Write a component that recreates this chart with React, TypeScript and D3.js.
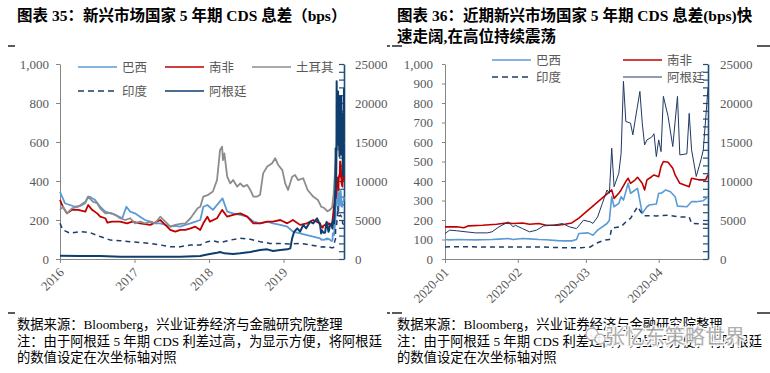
import React, { useEffect, useRef } from 'react'
import * as d3 from 'd3'

type Pt = [string, number]

// ---- 2016-07 ~ 2019-12 (left axis bps; Argentina on secondary axis)
const brazilHist: Pt[] = [
  ['2016-07-01', 345], ['2016-07-11', 320], ['2016-07-25', 286], ['2016-08-19', 277],
  ['2016-09-13', 268], ['2016-10-08', 272], ['2016-11-02', 286], ['2016-11-16', 320],
  ['2016-11-26', 318], ['2016-12-20', 303], ['2017-01-14', 268], ['2017-02-08', 243],
  ['2017-03-05', 234], ['2017-03-29', 226], ['2017-05-02', 209], ['2017-05-22', 268],
  ['2017-06-10', 243], ['2017-07-03', 234], ['2017-07-28', 217], ['2017-08-22', 200],
  ['2017-09-16', 192], ['2017-10-10', 183], ['2017-11-04', 183], ['2017-11-29', 175],
  ['2017-12-23', 166], ['2018-01-17', 170], ['2018-02-10', 166], ['2018-03-07', 175],
  ['2018-04-01', 183], ['2018-04-25', 192], ['2018-05-19', 200], ['2018-06-03', 268],
  ['2018-06-23', 277], ['2018-07-20', 252], ['2018-09-05', 311], ['2018-09-28', 243],
  ['2018-10-27', 234], ['2018-12-01', 226], ['2019-01-04', 217], ['2019-02-03', 192],
  ['2019-03-08', 183], ['2019-04-12', 192], ['2019-05-10', 183], ['2019-06-15', 175],
  ['2019-07-19', 166], ['2019-08-16', 140], ['2019-09-20', 132], ['2019-10-23', 123],
  ['2019-11-23', 115], ['2019-12-27', 106],
]

const safricaHist: Pt[] = [
  ['2016-07-01', 303], ['2016-07-15', 268], ['2016-08-04', 234], ['2016-08-29', 252],
  ['2016-09-28', 252], ['2016-11-02', 243], ['2016-11-16', 277], ['2016-12-05', 252],
  ['2016-12-30', 234], ['2017-01-14', 217], ['2017-02-08', 209], ['2017-02-18', 186],
  ['2017-03-12', 192], ['2017-04-22', 192], ['2017-05-25', 183], ['2017-06-21', 192],
  ['2017-07-28', 183], ['2017-09-16', 175], ['2017-11-04', 200], ['2017-11-29', 175],
  ['2017-12-23', 149], ['2018-01-17', 140], ['2018-02-10', 149], ['2018-03-07', 149],
  ['2018-04-01', 157], ['2018-04-25', 166], ['2018-05-19', 149], ['2018-06-03', 183],
  ['2018-06-23', 217], ['2018-07-05', 192], ['2018-08-09', 209], ['2018-09-03', 252],
  ['2018-09-28', 217], ['2018-10-27', 226], ['2018-12-01', 234], ['2019-01-04', 217],
  ['2019-02-03', 183], ['2019-03-08', 183], ['2019-04-12', 192], ['2019-05-10', 192],
  ['2019-06-15', 200], ['2019-07-19', 183], ['2019-08-16', 200], ['2019-09-20', 175],
  ['2019-10-23', 183], ['2019-11-23', 200], ['2019-12-27', 183],
]

const turkeyHist: Pt[] = [
  ['2016-07-01', 252], ['2016-07-15', 268], ['2016-08-04', 234], ['2016-08-29', 260],
  ['2016-09-28', 268], ['2016-11-02', 294], ['2016-11-16', 320], ['2016-12-09', 294],
  ['2016-12-30', 286], ['2017-01-14', 260], ['2017-02-08', 234], ['2017-03-05', 237],
  ['2017-03-29', 226], ['2017-04-22', 209], ['2017-05-17', 200], ['2017-06-10', 209],
  ['2017-07-03', 183], ['2017-07-28', 192], ['2017-08-22', 183], ['2017-09-16', 192],
  ['2017-10-10', 183], ['2017-11-04', 217], ['2017-11-29', 192], ['2017-12-23', 166],
  ['2018-01-17', 175], ['2018-02-10', 180], ['2018-03-07', 183], ['2018-04-01', 209],
  ['2018-05-06', 260], ['2018-05-19', 268], ['2018-06-03', 320], ['2018-06-27', 329],
  ['2018-07-20', 346], ['2018-08-09', 405], ['2018-08-24', 559], ['2018-09-03', 576],
  ['2018-09-07', 507], ['2018-09-14', 542], ['2018-09-28', 422], ['2018-10-13', 388],
  ['2018-10-27', 405], ['2018-11-16', 371], ['2018-12-01', 388], ['2018-12-16', 371],
  ['2019-01-04', 380], ['2019-01-19', 354], ['2019-02-03', 320], ['2019-02-22', 320],
  ['2019-03-08', 329], ['2019-03-23', 439], ['2019-04-12', 474], ['2019-05-06', 491],
  ['2019-05-21', 517], ['2019-06-05', 482], ['2019-06-25', 456], ['2019-07-09', 388],
  ['2019-07-23', 354], ['2019-08-12', 422], ['2019-08-26', 431], ['2019-09-10', 405],
  ['2019-10-05', 414], ['2019-10-27', 354], ['2019-11-23', 320], ['2019-12-16', 303],
  ['2019-12-27', 280],
]

const indiaHist: Pt[] = [
  ['2016-07-01', 183], ['2016-07-15', 149], ['2016-08-19', 132], ['2016-10-08', 140],
  ['2016-11-26', 135], ['2017-01-14', 115], ['2017-03-05', 97], ['2017-04-22', 94],
  ['2017-06-10', 89], ['2017-07-28', 84], ['2017-09-16', 80], ['2017-11-04', 72],
  ['2017-12-23', 63], ['2018-02-10', 63], ['2018-04-01', 72], ['2018-05-19', 72],
  ['2018-06-23', 89], ['2018-07-20', 94], ['2018-08-24', 84], ['2018-10-13', 97],
  ['2018-12-01', 106], ['2019-01-19', 101], ['2019-03-08', 89], ['2019-04-25', 80],
  ['2019-06-15', 80], ['2019-08-03', 77], ['2019-09-20', 80], ['2019-11-08', 72],
  ['2019-12-27', 63],
]

const argentinaHist: Pt[] = [
  ['2016-07-01', 423], ['2016-10-08', 385], ['2017-01-14', 385], ['2017-04-22', 300],
  ['2017-09-16', 300], ['2018-02-10', 300], ['2018-05-19', 385], ['2018-06-10', 513],
  ['2018-07-05', 641], ['2018-08-09', 812], ['2018-08-24', 897], ['2018-09-14', 726],
  ['2018-10-27', 641], ['2018-12-01', 726], ['2019-01-19', 897], ['2019-03-08', 1154],
  ['2019-04-12', 1239], ['2019-05-10', 1026], ['2019-06-15', 1154], ['2019-07-19', 1239],
  ['2019-08-03', 1368], ['2019-08-12', 2650], ['2019-08-22', 3500], ['2019-09-06', 3928],
  ['2019-09-20', 3500], ['2019-10-05', 4355], ['2019-10-20', 3928], ['2019-11-08', 4783],
  ['2019-11-23', 4570], ['2019-12-12', 5211], ['2019-12-27', 4355],
]

const brazil2020: Pt[] = [
  ['2020-01-01', 100], ['2020-01-03', 98], ['2020-01-07', 100], ['2020-01-10', 99],
  ['2020-01-14', 98], ['2020-01-17', 99], ['2020-01-21', 100], ['2020-01-24', 102],
  ['2020-01-28', 105], ['2020-01-30', 100], ['2020-02-03', 105], ['2020-02-06', 103],
  ['2020-02-10', 100], ['2020-02-13', 99], ['2020-02-18', 94], ['2020-02-21', 93],
  ['2020-02-24', 93], ['2020-02-26', 100], ['2020-02-27', 131], ['2020-03-02', 134],
  ['2020-03-04', 122], ['2020-03-06', 148], ['2020-03-10', 182], ['2020-03-11', 199],
  ['2020-03-12', 319], ['2020-03-13', 268], ['2020-03-15', 285], ['2020-03-16', 319],
  ['2020-03-17', 302], ['2020-03-19', 388], ['2020-03-20', 337], ['2020-03-21', 345],
  ['2020-03-23', 362], ['2020-03-25', 234], ['2020-03-27', 268], ['2020-03-28', 277],
  ['2020-03-31', 282], ['2020-04-01', 337], ['2020-04-02', 337], ['2020-04-03', 345],
  ['2020-04-04', 354], ['2020-04-06', 345], ['2020-04-08', 319], ['2020-04-09', 271],
  ['2020-04-13', 268], ['2020-04-15', 294], ['2020-04-17', 294], ['2020-04-20', 299],
  ['2020-04-22', 319],
]

const safrica2020: Pt[] = [
  ['2020-01-01', 165], ['2020-01-06', 165], ['2020-01-09', 160], ['2020-01-11', 170],
  ['2020-01-17', 173], ['2020-01-23', 178], ['2020-01-27', 185], ['2020-01-30', 182],
  ['2020-02-03', 185], ['2020-02-06', 178], ['2020-02-10', 182], ['2020-02-13', 173],
  ['2020-02-18', 173], ['2020-02-21', 178], ['2020-02-24', 185], ['2020-02-27', 210],
  ['2020-03-12', 354], ['2020-03-13', 311], ['2020-03-15', 337], ['2020-03-16', 354],
  ['2020-03-18', 397], ['2020-03-19', 414], ['2020-03-20', 388], ['2020-03-22', 406],
  ['2020-03-23', 419], ['2020-03-25', 388], ['2020-03-26', 354], ['2020-03-27', 406],
  ['2020-03-29', 422], ['2020-03-30', 431], ['2020-04-01', 422], ['2020-04-02', 474],
  ['2020-04-03', 500], ['2020-04-05', 496], ['2020-04-07', 465], ['2020-04-08', 431],
  ['2020-04-10', 388], ['2020-04-14', 371], ['2020-04-15', 414], ['2020-04-18', 406],
  ['2020-04-21', 406], ['2020-04-22', 431],
]

const india2020: Pt[] = [
  ['2020-01-01', 62], ['2020-01-10', 63], ['2020-01-20', 61], ['2020-02-01', 62],
  ['2020-02-10', 62], ['2020-02-20', 58], ['2020-02-28', 58], ['2020-03-03', 62],
  ['2020-03-05', 79], ['2020-03-09', 97], ['2020-03-11', 100], ['2020-03-12', 158],
  ['2020-03-16', 166], ['2020-03-18', 190], ['2020-03-20', 208], ['2020-03-23', 268],
  ['2020-03-25', 230], ['2020-03-26', 222], ['2020-03-31', 221], ['2020-04-05', 225],
  ['2020-04-10', 216], ['2020-04-14', 216], ['2020-04-15', 182], ['2020-04-22', 178],
]

const argentina2020: Pt[] = [
  ['2020-01-01', 3270], ['2020-01-03', 3700], ['2020-01-06', 3620], ['2020-01-10', 3480],
  ['2020-01-14', 3350], ['2020-01-19', 3350], ['2020-01-21', 3480], ['2020-01-24', 4120],
  ['2020-01-28', 4760], ['2020-01-30', 4120], ['2020-01-31', 4320], ['2020-02-03', 3900],
  ['2020-02-06', 3480], ['2020-02-09', 3700], ['2020-02-12', 4250], ['2020-02-16', 4320],
  ['2020-02-20', 4550], ['2020-02-23', 4120], ['2020-02-26', 3900], ['2020-02-29', 4980],
  ['2020-03-03', 4750], ['2020-03-04', 4560], ['2020-03-06', 5400], ['2020-03-08', 7120],
  ['2020-03-10', 8850], ['2020-03-11', 8420], ['2020-03-12', 14200], ['2020-03-13', 9270],
  ['2020-03-15', 10980], ['2020-03-16', 13550], ['2020-03-17', 22780], ['2020-03-18', 17630],
  ['2020-03-20', 17420], ['2020-03-21', 15920], ['2020-03-22', 17840], ['2020-03-24', 21480],
  ['2020-03-25', 17420], ['2020-03-26', 14630], ['2020-03-27', 15270], ['2020-03-29', 15620],
  ['2020-03-30', 16060], ['2020-03-31', 13130], ['2020-04-01', 15270], ['2020-04-02', 13770],
  ['2020-04-03', 20850], ['2020-04-05', 18280], ['2020-04-07', 14420], ['2020-04-09', 20850],
  ['2020-04-10', 13350], ['2020-04-13', 13480], ['2020-04-14', 18670], ['2020-04-15', 14000],
  ['2020-04-17', 10580], ['2020-04-19', 12720], ['2020-04-20', 14000], ['2020-04-22', 21900],
]

const turkey2020: Pt[] = [
  ['2020-01-01', 268], ['2020-01-15', 262], ['2020-02-01', 245], ['2020-02-13', 252],
  ['2020-02-24', 265], ['2020-03-02', 330], ['2020-03-09', 450], ['2020-03-13', 520],
  ['2020-03-17', 576], ['2020-03-19', 627], ['2020-03-24', 560], ['2020-03-30', 600],
  ['2020-04-06', 610], ['2020-04-14', 570], ['2020-04-22', 600],
]

const leftYTicks = [0, 200, 400, 600, 800, 1000]
const rightYTicks = [0, 100, 200, 300, 400, 500, 600, 700, 800, 900, 1000]
const secYTicks = [0, 5000, 10000, 15000, 20000, 25000]
const leftXTicks = ['2016-07-01', '2017-07-01', '2018-07-01', '2019-07-01']
const rightXTicks = ['2020-01-01', '2020-02-01', '2020-03-01', '2020-04-01']

const leftTitle = '图表 35：新兴市场国家 5 年期 CDS 息差（bps）'
const rightTitle = ['图表 36：近期新兴市场国家 5 年期 CDS 息差(bps)快', '速走阔,在高位持续震荡']
const footLines = [
  '数据来源：Bloomberg，兴业证券经济与金融研究院整理',
  '注：由于阿根廷 5 年期 CDS 利差过高，为显示方便，将阿根廷',
  '的数值设定在次坐标轴对照',
]

const SERIF = "'Liberation Serif', 'Times New Roman', 'Noto Sans CJK SC', serif"
const CJK = "'Noto Sans CJK SC', sans-serif"
const AXIS_GRAY = '#868686'
const LABEL = '#595959'
const NAVY = '#1F4E79'

const parseDate = d3.timeParse('%Y-%m-%d')
const toDate = (s: string) => parseDate(s) as Date

type SeriesDef = {
  name: string
  data: Pt[]
  color: string
  width: number
  dash?: string
  secondary?: boolean
}

type PanelDef = {
  left: number
  right: number
  top: number
  bottom: number
  domain: [string, string]
  yTicks: number[]
  yTickSize: number
  yPad: number
  secPad: number
  xTicks: string[]
  xFormat: string
  series: SeriesDef[]
  legend: { name: string; x: number; y: number }[]
}

const drawPanel = (
  svg: d3.Selection<SVGSVGElement, unknown, null, undefined>,
  p: PanelDef,
) => {
  const x = d3
    .scaleTime()
    .domain([toDate(p.domain[0]), toDate(p.domain[1])])
    .range([p.left, p.right])
  const y = d3.scaleLinear().domain([0, 1000]).range([p.bottom, p.top])
  const y2 = d3.scaleLinear().domain([0, 25000]).range([p.bottom, p.top])

  // x axis
  const xg = svg
    .append('g')
    .attr('transform', `translate(0,${p.bottom})`)
    .call(
      d3
        .axisBottom(x)
        .tickValues(p.xTicks.map(toDate))
        .tickFormat((d) => d3.timeFormat(p.xFormat)(d as Date))
        .tickSize(4)
        .tickSizeOuter(0),
    )
  xg.attr('font-family', SERIF).attr('font-size', 13)
  xg.select('.domain').attr('stroke', AXIS_GRAY)
  xg.selectAll('.tick line').attr('stroke', AXIS_GRAY)
  xg.selectAll('.tick text')
    .attr('fill', LABEL)
    .attr('x', 0)
    .attr('y', 0)
    .attr('dy', '0.35em')
    .attr('text-anchor', 'end')
    .attr('transform', 'translate(1,11) rotate(-45)')

  // left axis
  const yg = svg
    .append('g')
    .attr('transform', `translate(${p.left},0)`)
    .call(
      d3
        .axisLeft(y)
        .tickValues(p.yTicks)
        .tickFormat(d3.format(','))
        .tickSize(p.yTickSize)
        .tickPadding(p.yPad)
        .tickSizeOuter(0),
    )
  yg.attr('font-family', SERIF).attr('font-size', 13)
  yg.select('.domain').attr('stroke', AXIS_GRAY)
  yg.selectAll('.tick line').attr('stroke', AXIS_GRAY)
  yg.selectAll('.tick text').attr('fill', LABEL)

  // secondary axis: minor ticks pointing inward + labels outside
  const minor = svg
    .append('g')
    .attr('transform', `translate(${p.right},0)`)
    .call(
      d3
        .axisLeft(y2)
        .tickValues(d3.range(0, 25001, 1000))
        .tickFormat(() => '')
        .tickSize(5)
        .tickSizeOuter(0),
    )
  minor.select('.domain').remove()
  minor.selectAll('.tick line').attr('stroke', NAVY).attr('stroke-width', 1.2)

  const sg = svg
    .append('g')
    .attr('transform', `translate(${p.right},0)`)
    .call(
      d3
        .axisRight(y2)
        .tickValues(secYTicks)
        .tickFormat(d3.format('d'))
        .tickSize(0)
        .tickPadding(p.secPad)
        .tickSizeOuter(0),
    )
  sg.attr('font-family', SERIF).attr('font-size', 13)
  sg.select('.domain').attr('stroke', NAVY).attr('stroke-width', 1.6)
  sg.selectAll('.tick text').attr('fill', LABEL)

  // lines
  p.series.forEach((s) => {
    const yy = s.secondary ? y2 : y
    const line = d3
      .line<Pt>()
      .x((d) => x(toDate(d[0])))
      .y((d) => yy(d[1]))
    svg
      .append('path')
      .datum(s.data)
      .attr('d', line)
      .attr('fill', 'none')
      .attr('stroke', s.color)
      .attr('stroke-width', s.width)
      .attr('stroke-linejoin', 'round')
      .attr('stroke-dasharray', s.dash ?? null)
  })

  // legend
  p.legend.forEach((l) => {
    const s = p.series.find((d) => d.name === l.name)!
    svg
      .append('line')
      .attr('x1', l.x)
      .attr('x2', l.x + 39)
      .attr('y1', l.y)
      .attr('y2', l.y)
      .attr('stroke', s.color)
      .attr('stroke-width', Math.min(s.width, 1.6))
      .attr('stroke-dasharray', s.dash ? '6,4' : null)
    svg
      .append('text')
      .attr('x', l.x + 44)
      .attr('y', l.y)
      .attr('dy', '0.36em')
      .attr('font-family', CJK)
      .attr('font-size', 12.5)
      .attr('fill', LABEL)
      .text(l.name)
  })
}

const App: React.FC = () => {
  const svgRef = useRef<SVGSVGElement>(null)

  useEffect(() => {
    if (!svgRef.current) return
    const svg = d3.select(svgRef.current)
    svg.selectAll('*').remove()

    svg.append('rect').attr('width', 770).attr('height', 373).attr('fill', '#fff')

    drawPanel(svg, {
      left: 60,
      right: 344,
      top: 64,
      bottom: 259,
      domain: ['2016-07-01', '2020-04-22'],
      yTicks: leftYTicks,
      yTickSize: 4,
      yPad: 7,
      secPad: 11,
      xTicks: leftXTicks,
      xFormat: '%Y',
      series: [
        { name: '巴西', data: [...brazilHist, ...brazil2020], color: '#5B9BD5', width: 1.8 },
        { name: '南非', data: [...safricaHist, ...safrica2020], color: '#C00000', width: 1.8 },
        { name: '土耳其', data: [...turkeyHist, ...turkey2020], color: '#8C8C8C', width: 1.8 },
        { name: '印度', data: [...indiaHist, ...india2020], color: '#1F3D6B', width: 1.5, dash: '5,4' },
        {
          name: '阿根廷',
          data: [...argentinaHist, ...argentina2020],
          color: '#0E3D6E',
          width: 2,
          secondary: true,
        },
      ],
      legend: [
        { name: '巴西', x: 78, y: 67 },
        { name: '南非', x: 165, y: 67 },
        { name: '土耳其', x: 252, y: 67 },
        { name: '印度', x: 78, y: 91 },
        { name: '阿根廷', x: 165, y: 91 },
      ],
    })

    drawPanel(svg, {
      left: 445,
      right: 708,
      top: 64,
      bottom: 259,
      domain: ['2020-01-01', '2020-04-22'],
      yTicks: rightYTicks,
      yTickSize: 3,
      yPad: 9,
      secPad: 12,
      xTicks: rightXTicks,
      xFormat: '%Y-%m',
      series: [
        { name: '巴西', data: brazil2020, color: '#5B9BD5', width: 1.6 },
        { name: '南非', data: safrica2020, color: '#C00000', width: 1.6 },
        { name: '印度', data: india2020, color: '#1F3D6B', width: 1.5, dash: '5,4' },
        { name: '阿根廷', data: argentina2020, color: '#1F3864', width: 1, secondary: true },
      ],
      legend: [
        { name: '巴西', x: 492, y: 60 },
        { name: '南非', x: 623, y: 60 },
        { name: '印度', x: 492, y: 77 },
        { name: '阿根廷', x: 623, y: 77 },
      ],
    })

    // titles
    const title = (t: string, xx: number, yy: number) =>
      svg
        .append('text')
        .attr('x', xx)
        .attr('y', yy)
        .attr('font-family', SERIF)
        .attr('font-weight', 'bold')
        .attr('font-size', 15.5)
        .attr('fill', '#000')
        .text(t)
    title(leftTitle, 17, 21)
    title(rightTitle[0], 397, 21)
    title(rightTitle[1], 397, 42)

    // frame fragments
    const seg = (x1: number, x2: number, yy: number) =>
      svg
        .append('line')
        .attr('x1', x1)
        .attr('x2', x2)
        .attr('y1', yy)
        .attr('y2', yy)
        .attr('stroke', '#000')
        .attr('stroke-width', 1.3)
    seg(8, 15, 46)
    seg(387, 390, 46)
    seg(392, 402, 46)
    seg(757, 770, 46)
    seg(8, 15, 313)
    seg(387, 390, 313)
    seg(392, 402, 313)
    seg(757, 770, 313)

    // footnotes
    ;[17, 397].forEach((fx) => {
      footLines.forEach((t, i) => {
        svg
          .append('text')
          .attr('x', fx)
          .attr('y', 329 + i * 16.5)
          .attr('font-family', SERIF)
          .attr('font-size', 13.3)
          .attr('fill', '#000')
          .text(t)
      })
    })

    // watermark
    const wm = svg.append('g').attr('opacity', 0.9)
    wm.append('circle')
      .attr('cx', 592)
      .attr('cy', 334)
      .attr('r', 6)
      .attr('fill', '#fff')
      .attr('stroke', '#b5b5b5')
      .attr('stroke-width', 1.5)
    wm.append('circle')
      .attr('cx', 600)
      .attr('cy', 339)
      .attr('r', 5)
      .attr('fill', '#fff')
      .attr('stroke', '#b5b5b5')
      .attr('stroke-width', 1.5)
    wm.append('text')
      .attr('x', 605)
      .attr('y', 344)
      .attr('font-family', CJK)
      .attr('font-size', 20)
      .attr('fill', '#a8a8a8')
      .attr('stroke', '#ffffff')
      .attr('stroke-width', 3)
      .attr('paint-order', 'stroke')
      .text('张忆东策略世界')
  }, [])

  return (
    <div style={{ position: 'absolute', left: 0, top: 0 }}>
      <svg ref={svgRef} width={770} height={373} style={{ display: 'block' }} />
    </div>
  )
}

export default App
